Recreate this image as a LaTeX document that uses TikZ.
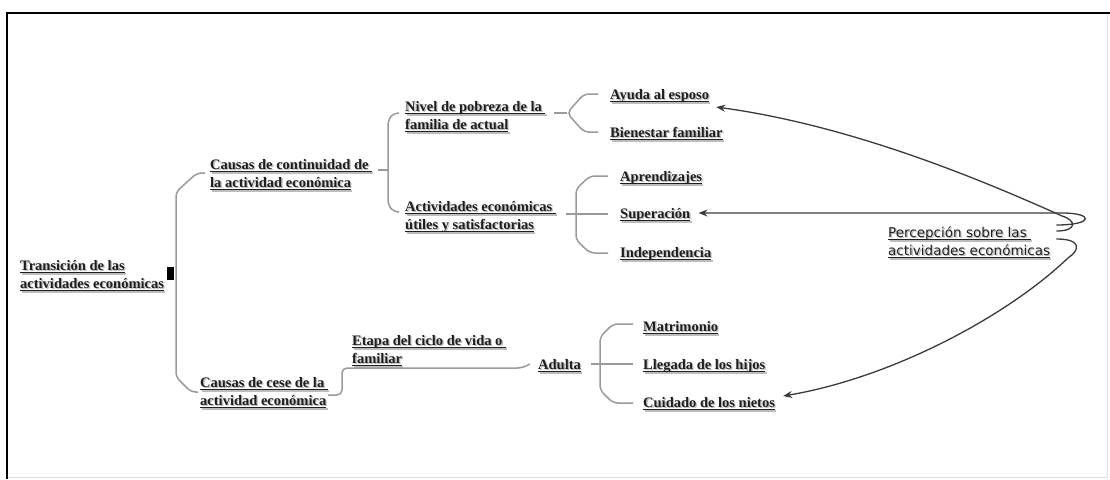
\documentclass[tikz,border=0pt]{standalone}
\usepackage{fontspec}
\setmainfont{Liberation Serif}
\newfontfamily\percfont{DejaVu Sans}
\usetikzlibrary{calc,arrows.meta}

\definecolor{inkc}{HTML}{1E1E1E}
\definecolor{shadowc}{HTML}{BDBDBD}
\definecolor{branchc}{HTML}{9A9A9A}
\definecolor{arrowc}{HTML}{3A3A3A}

% underlined text with a soft drop shadow; the rule sits at a fixed depth
\newlength\ulwd
\newcommand{\ulx}[1]{\settowidth{\ulwd}{#1}%
  \rlap{\kern1.3pt\lower1.3pt\hbox{\color{shadowc}#1\kern-\ulwd\rule[-3.4pt]{\ulwd}{1.4pt}}}%
  \rlap{#1}\rule[-3.4pt]{\ulwd}{1.4pt}}

\begin{document}
% two-line topics sit on the baseline of their second line
\begin{tikzpicture}[x=1pt,y=-1pt,
  topic/.style={anchor=base west,inner sep=0pt,align=left,text=inkc,
    font=\fontsize{14.5}{18}\selectfont\bfseries},
  percep/.style={anchor=base west,inner sep=0pt,align=left,text=inkc,
    font=\percfont\fontsize{13.5}{18}\selectfont},
  branch/.style={draw=branchc,line width=1.5pt,rounded corners=5pt},
  link/.style={draw=arrowc,line width=1.3pt,
    -{Stealth[length=9pt,width=7pt]}}]

\useasboundingbox (0,0) rectangle (1110,479);

% frame
\draw[line width=2pt] (7,479) -- (7,13) -- (1110,13);
\draw[black!12,line width=1pt] (1107,14) -- (1107,477) -- (8,477);

% topics
\node[topic] (root) at (20,288) {\ulx{Transición de las}\\\ulx{actividades económicas}};
\node[topic] (cont) at (210,187) {\ulx{Causas de continuidad de\ }\\\ulx{la actividad económica}};
\node[topic] (cese) at (200,405) {\ulx{Causas de cese de la\ }\\\ulx{actividad económica}};
\node[topic] (nivel) at (405,129) {\ulx{Nivel de pobreza de la\ }\\\ulx{familia de actual}};
\node[topic] (activ) at (405,229) {\ulx{Actividades económicas\ }\\\ulx{útiles y satisfactorias}};
\node[topic] (ayuda) at (610,99) {\ulx{Ayuda al esposo}};
\node[topic] (bien) at (610,137) {\ulx{Bienestar familiar}};
\node[topic] (apren) at (620,181) {\ulx{Aprendizajes}};
\node[topic] (super) at (620,218) {\ulx{Superación}};
\node[topic] (indep) at (620,257) {\ulx{Independencia}};
\node[topic] (etapa) at (352,363) {\ulx{Etapa del ciclo de vida o\ }\\\ulx{familiar}};
\node[topic] (adulta) at (538,369) {\ulx{Adulta}};
\node[topic] (matri) at (643,331) {\ulx{Matrimonio}};
\node[topic] (llega) at (643,369) {\ulx{Llegada de los hijos}};
\node[topic] (cuida) at (643,407) {\ulx{Cuidado de los nietos}};
\node[percep] (perc) at (888,255) {\ulx{Percepción sobre las\ }\\\ulx{actividades económicas}};

% knob of the central topic
\node[fill=black,inner sep=0pt,minimum width=6.5pt,minimum height=13pt]
  (knob) at ($(root.base east)+(6.5,-14.5)$) {};

% main trunk
\draw[branch] ($(cont.base west)+(-5,-14)$) -- (197,173) -- (176,192)
  -- (176,377) -- (191,392) -- ($(cese.base west)+(-2,-13)$);

% continuity causes
\draw[branch] ($(cont.base east)+(6,-17)$) -- (388,170);
\draw[branch] ($(nivel.base west)+(-6,-16)$) -- (394,113) -- (388,120)
  -- (388,205) -- (394,212) -- ($(activ.base west)+(-6,-17)$);

% poverty level
\draw[branch] ($(nivel.base east)+(8,-16)$) -- (567,113);
\draw[branch] ($(ayuda.base west)+(-12,-5)$) -- (584,94) -- (567,113)
  -- (584,132) -- ($(bien.base west)+(-12,-5)$);

% useful activities
\draw[branch] ($(activ.base east)+(10,-15)$) -- ($(super.base west)+(-12,-4)$);
\draw[branch] ($(apren.base west)+(-12,-5)$) -- (590,176) -- (576,189)
  -- (576,240) -- (590,253) -- ($(indep.base west)+(-12,-4)$);

% cessation causes
\draw[branch] ($(cese.base east)+(0,-10)$) -- (342,395) -- (342,368)
  -- (522,368) -- ($(adulta.base west)+(-8,-5)$);

% adult stage
\draw[branch] ($(adulta.base east)+(10,-5)$) -- ($(llega.base west)+(-10,-5)$);
\draw[branch] ($(matri.base west)+(-10,-7)$) -- (613,324) -- (600,337)
  -- (600,390) -- (613,403) -- ($(cuida.base west)+(-10,-4)$);

% perception links
\coordinate (hookS) at ($(perc.base east)+(6,-30)$);
\coordinate (hookA) at ($(perc.base east)+(6,-24)$);
\coordinate (hookC) at ($(perc.base east)+(6,-16)$);
\draw[link] (hookS) .. controls (1094,225) and (1094,213) .. (1062,213)
  -- ($(super.base east)+(8,-5)$);
\draw[link] (hookA) .. controls (1078,231) and (1076,220) .. (1062,216)
  .. controls (960,170) and (840,124) .. ($(ayuda.base east)+(7,8)$);
\draw[link] (hookC) .. controls (1082,239) and (1080,250) .. (1068,258)
  .. controls (1005,318) and (890,378) .. ($(cuida.base east)+(8,-11)$);

\end{tikzpicture}
\end{document}
